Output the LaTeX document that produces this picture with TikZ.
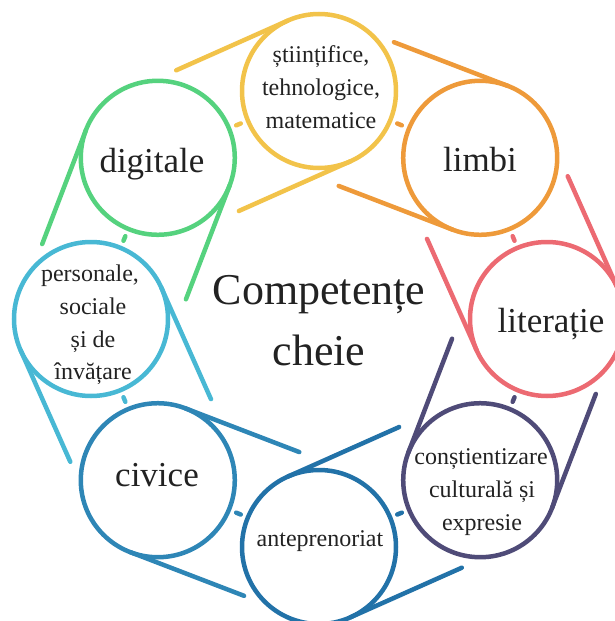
\documentclass[tikz,border=0pt]{standalone}
\usepackage{fontspec}
\setmainfont{Liberation Serif}
\usetikzlibrary{calc}
\definecolor{cyel}{HTML}{F2C34A}
\definecolor{cora}{HTML}{EE9A3A}
\definecolor{cred}{HTML}{EC6A72}
\definecolor{cpur}{HTML}{4F4B78}
\definecolor{cdbl}{HTML}{2272A8}
\definecolor{cblu}{HTML}{2E86B6}
\definecolor{clbl}{HTML}{48B8D4}
\definecolor{cgre}{HTML}{55D27E}
\definecolor{ctxt}{HTML}{222222}
\begin{document}
\begin{tikzpicture}[x=1pt,y=1pt,
  ring/.style={circle, draw=#1, line width=4.5pt, minimum size=154pt, inner sep=0pt},
  belt/.style={draw=#1, line width=4.5pt, line cap=round},
  tick/.style={draw=#1, line width=4.5pt, line cap=round},
  small/.style={font=\fontsize{24}{30}\selectfont, text=ctxt, anchor=base, inner sep=0pt},
  mid/.style={font=\fontsize{35}{40}\selectfont, text=ctxt, anchor=base, inner sep=0pt},
  big/.style={font=\fontsize{44}{50}\selectfont, text=ctxt, anchor=base, inner sep=0pt}]
\useasboundingbox (0,0) rectangle (614,-621);
\coordinate (O) at (319,-319);
\foreach \ang/\col/\nm in {90/cyel/c1, 45/cora/c2, 0/cred/c3, -45/cpur/c4, -90/cdbl/c5, -135/cblu/c6, 180/clbl/c7, 135/cgre/c8} {
  \node[ring=\col] (\nm) at ($(O)+(\ang:228)$) {};
  \coordinate (\nm-a) at ($(\nm.center)+({\ang+24}:77)$);
  \coordinate (\nm-b) at ($(\nm.center)+({\ang+204}:77)$);
  \coordinate (\nm-ae) at ($(\nm-a)+({\ang+114}:122)$);
  \coordinate (\nm-be) at ($(\nm-b)+({\ang+114}:122)$);
  \draw[belt=\col] (\nm-a) -- (\nm-ae);
  \draw[belt=\col] (\nm-b) -- (\nm-be);
  \coordinate (\nm-m) at ($(O)+({\ang+22.5}:210.6)$);
  \coordinate (\nm-t1) at ($(\nm-m)+({\ang+112.5}:2.5)$);
  \coordinate (\nm-t2) at ($(\nm-m)+({\ang+112.5}:-2.5)$);
  \draw[tick=\col] (\nm-t1) -- (\nm-t2);
}
% texts
\node[small] (t1a) at (321,-62) {științifice,};
\node[small] (t1b) at (321,-95) {tehnologice,};
\node[small] (t1c) at (321,-128) {matematice};
\node[mid] (t2) at (480,-171) {limbi};
\node[mid] (t3) at (551,-332) {literație};
\node[small] (t4a) at (481,-464) {conștientizare};
\node[small] (t4b) at (482,-497) {culturală și};
\node[small] (t4c) at (482,-530) {expresie};
\node[small] (t5) at (320,-546) {anteprenoriat};
\node[mid] (t6) at (157,-486) {civice};
\node[small] (t7a) at (90,-281) {personale,};
\node[small] (t7b) at (93,-314) {sociale};
\node[small] (t7c) at (93,-347) {și de};
\node[small] (t7d) at (93,-379) {învățare};
\node[mid] (t8) at (152,-172) {digitale};
\node[big] (ca) at (319,-304) {Competențe};
\node[big] (cb) at (319,-365) {cheie};
\end{tikzpicture}
\end{document}
